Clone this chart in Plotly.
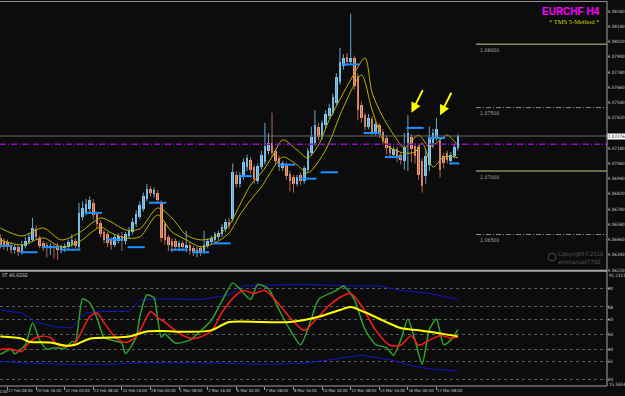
import plotly.graph_objects as go

# ---------------- data ----------------
bars = list(range(129))
opens = [1.0647,1.0645,1.0644,1.0642,1.0638,1.0640,1.0636,1.0641,1.0644,1.0646,
         1.0654,1.0647,1.0643,1.0642,1.0639,1.0641,1.0641,1.0638,1.0639,1.0640,
         1.0642,1.0645,1.0640,1.0664,1.0668,1.0670,1.0675,1.0666,1.0659,1.0652,
         1.0650,1.0646,1.0642,1.0645,1.0649,1.0645,1.0649,1.0652,1.0658,1.0664,
         1.0670,1.0678,1.0686,1.0682,1.0683,1.0675,1.0658,1.0648,1.0645,1.0645,
         1.0640,1.0643,1.0639,1.0642,1.0639,1.0636,1.0639,1.0637,1.0641,1.0644,
         1.0646,1.0648,1.0650,1.0654,1.0660,1.0662,1.0697,1.0690,1.0696,1.0703,
         1.0709,1.0703,1.0692,1.0703,1.0707,1.0716,1.0722,1.0716,1.0710,1.0702,
         1.0705,1.0698,1.0695,1.0690,1.0697,1.0692,1.0701,1.0714,1.0722,1.0735,
         1.0727,1.0736,1.0743,1.0746,1.0754,1.0770,1.0783,1.0790,1.0786,1.0789,
         1.0775,1.0752,1.0744,1.0735,1.0741,1.0731,1.0736,1.0731,1.0726,1.0720,
         1.0713,1.0717,1.0713,1.0708,1.0722,1.0727,1.0720,1.0719,1.0708,1.0696,
         1.0705,1.0722,1.0727,1.0724,1.0712,1.0714,1.0708,1.0712,1.0718]
highs = [1.0650,1.0647,1.0646,1.0644,1.0642,1.0642,1.0645,1.0648,1.0651,1.0663,
         1.0657,1.0649,1.0645,1.0644,1.0643,1.0643,1.0643,1.0642,1.0643,1.0646,
         1.0650,1.0647,1.0675,1.0676,1.0678,1.0680,1.0678,1.0668,1.0661,1.0654,
         1.0652,1.0648,1.0650,1.0651,1.0652,1.0652,1.0656,1.0663,1.0669,1.0676,
         1.0683,1.0690,1.0688,1.0687,1.0685,1.0677,1.0660,1.0650,1.0647,1.0647,
         1.0645,1.0645,1.0653,1.0644,1.0641,1.0640,1.0641,1.0653,1.0647,1.0649,
         1.0652,1.0653,1.0658,1.0662,1.0663,1.0706,1.0700,1.0699,1.0710,1.0713,
         1.0711,1.0705,1.0706,1.0716,1.0738,1.0730,1.0746,1.0718,1.0712,1.0708,
         1.0707,1.0700,1.0697,1.0697,1.0699,1.0704,1.0718,1.0735,1.0748,1.0738,
         1.0740,1.0748,1.0753,1.0761,1.0777,1.0797,1.0792,1.0793,1.0824,1.0791,
         1.0777,1.0755,1.0746,1.0745,1.0743,1.0739,1.0738,1.0733,1.0728,1.0722,
         1.0719,1.0719,1.0715,1.0730,1.0744,1.0729,1.0722,1.0721,1.0710,1.0716,
         1.0735,1.0733,1.0742,1.0727,1.0714,1.0716,1.0715,1.0721,1.0729]
lows = [1.0639,1.0638,1.0637,1.0635,1.0635,1.0633,1.0634,1.0639,1.0642,1.0644,
        1.0646,1.0639,1.0637,1.0632,1.0634,1.0631,1.0630,1.0635,1.0636,1.0638,
        1.0640,1.0639,1.0638,1.0661,1.0665,1.0667,1.0662,1.0655,1.0648,1.0643,
        1.0640,1.0638,1.0640,1.0643,1.0637,1.0642,1.0647,1.0650,1.0656,1.0662,
        1.0668,1.0676,1.0680,1.0679,1.0674,1.0644,1.0642,1.0637,1.0636,1.0638,
        1.0637,1.0637,1.0636,1.0634,1.0633,1.0632,1.0633,1.0635,1.0639,1.0642,
        1.0644,1.0646,1.0648,1.0652,1.0654,1.0660,1.0687,1.0687,1.0693,1.0700,
        1.0698,1.0690,1.0690,1.0701,1.0705,1.0713,1.0711,1.0705,1.0700,1.0700,
        1.0693,1.0684,1.0683,1.0688,1.0689,1.0690,1.0699,1.0712,1.0720,1.0724,
        1.0725,1.0734,1.0741,1.0744,1.0752,1.0768,1.0780,1.0783,1.0784,1.0764,
        1.0740,1.0738,1.0732,1.0733,1.0728,1.0728,1.0726,1.0721,1.0713,1.0711,
        1.0711,1.0707,1.0705,1.0701,1.0700,1.0707,1.0706,1.0693,1.0683,1.0690,
        1.0700,1.0718,1.0724,1.0695,1.0702,1.0706,1.0705,1.0710,1.0716]
closes = [1.0641,1.0641,1.0640,1.0638,1.0640,1.0636,1.0642,1.0645,1.0648,1.0655,
          1.0648,1.0641,1.0640,1.0639,1.0641,1.0639,1.0638,1.0640,1.0641,1.0644,
          1.0646,1.0641,1.0667,1.0671,1.0674,1.0677,1.0665,1.0658,1.0650,1.0646,
          1.0643,1.0642,1.0648,1.0649,1.0645,1.0650,1.0653,1.0660,1.0666,1.0673,
          1.0680,1.0686,1.0683,1.0685,1.0677,1.0647,1.0646,1.0642,1.0641,1.0640,
          1.0643,1.0640,1.0642,1.0637,1.0636,1.0638,1.0636,1.0642,1.0645,1.0647,
          1.0650,1.0651,1.0656,1.0660,1.0657,1.0699,1.0690,1.0697,1.0707,1.0710,
          1.0701,1.0694,1.0704,1.0713,1.0720,1.0722,1.0714,1.0708,1.0703,1.0706,
          1.0696,1.0692,1.0690,1.0695,1.0692,1.0702,1.0716,1.0727,1.0736,1.0727,
          1.0738,1.0745,1.0750,1.0758,1.0774,1.0786,1.0789,1.0786,1.0789,1.0767,
          1.0748,1.0742,1.0735,1.0742,1.0731,1.0737,1.0729,1.0724,1.0718,1.0714,
          1.0717,1.0710,1.0709,1.0719,1.0730,1.0717,1.0712,1.0697,1.0688,1.0712,
          1.0725,1.0730,1.0733,1.0701,1.0706,1.0709,1.0713,1.0719,1.07276]

# TMS blue high/low segments (start bar, end bar, level)
seg_start = [0, 6, 12, 17, 24, 30, 36, 42, 48, 54, 60, 67, 78, 84, 90, 96, 102, 108, 114, 120, 126]
seg_end = [3, 10, 16, 22, 28, 34, 40, 46, 52, 58, 64, 70, 82, 88, 94, 100, 106, 112, 118, 124, 128]
seg_level = [1.0641, 1.0636, 1.0640, 1.0638, 1.0667, 1.0646, 1.0640, 1.0675, 1.0638, 1.0636, 1.0643,
             1.0696, 1.0705, 1.0694, 1.0699, 1.0784, 1.0730, 1.0711, 1.0734, 1.0726, 1.0706]

# yellow channel on price
env_up_x = [0,6,12,17,22,28,31,35,39,44,48,52,56,60,64,67,70,73,76,79,83,86,89,92,98,102,104,107,111,113,117,120,123,125,128]
env_up = [1.06551,1.06488,1.06551,1.06457,1.06512,1.06630,1.06599,1.06536,1.06544,1.06709,1.06630,1.06496,
          1.06457,1.06480,1.06575,1.06733,1.06890,1.06985,1.07111,1.07245,1.07166,1.07103,1.07205,1.07402,
          1.07718,1.07891,1.07615,1.07426,1.07245,1.07182,1.07284,1.07190,1.07245,1.07284,1.07198]
env_lo_x = [0,6,12,17,22,28,31,35,39,44,48,52,56,60,64,67,70,73,76,79,83,86,91,96,101,104,108,113,116,118,121,124,127,128]
env_lo = [1.06457,1.06417,1.06473,1.06402,1.06441,1.06559,1.06512,1.06473,1.06480,1.06654,1.06520,1.06457,
          1.06402,1.06433,1.06512,1.06654,1.06772,1.06874,1.07008,1.07111,1.07048,1.06985,1.07166,1.07505,
          1.07757,1.07481,1.07205,1.07142,1.07150,1.07221,1.07032,1.07111,1.07111,1.07103]

# TDI indicator
green_x = [0,3,4,7,9,11,13,15,18,20,21,22,23,25,27,29,31,34,35,38,39,41,43,44,45,46,49,53,56,59,62,65,67,70,72,
           75,78,81,84,87,89,94,96,99,102,105,108,110,112,114,116,118,120,122,124,126,128]
green_v = [36.5,40,37,43,57.6,46,40,41,40.5,45,45,60,73.4,70.8,61,47.7,46,44,37,48,61.5,76,74,60,48,50,44,46,52,59,
           72,84,80,73,83,80,66,53,43,60,73,79,82,73,53,43,41,36,46,60,46,30,53,60,43,46,53]
red_x = [0,3,6,8,11,14,16,19,21,25,27,29,32,35,38,41,42,44,46,50,54,59,62,66,68,71,74,77,81,85,88,92,96,98,101,
         105,109,112,115,117,120,123,126,128]
red_v = [40,40,38.5,44.4,48.4,47.7,43,41.8,44.4,61.5,64,57.6,48.4,44.4,48.4,61.5,65,61,58,50.5,47,52,64.5,76,79,
         77,79,72.5,61,52.5,59,69,75.6,77,69,52.5,42.6,42.6,49,42.6,46,49,47.5,48]
base_x = [0,6,8,14,18,21,25,31,36,41,45,53,59,64,73,81,89,95,98,102,108,112,117,123,128]
base_v = [48.4,47,45,44.4,42.4,43,47,47.7,48.4,51.7,52,51.5,52.5,58,58,58,61.5,66,68,64.5,58,54,52.5,50.5,48.5]
bandup_x = [0,6,10,15,20,21,24,28,36,39,45,56,64,68,84,98,106,112,120,128]
bandup_v = [66,64,58,55,54,57.6,64,65,65,72.7,73.4,73,76,82,83,82,82,79,77,73]
banddn_x = [0,6,17,31,39,56,73,84,92,101,109,115,120,128]
banddn_v = [32,31,30,30,31,31,30,30.5,33,36,33,29,27,25.5]
tdi_levels = [80, 68, 60, 50, 40, 32, 20]
tdi_top, tdi_bottom = 91.2151, 15.5834

# levels on price chart
solid_levels = [1.08000, 1.07000]
dashed_levels = [1.07500, 1.06500]
pivot_level = 1.07212

price_ticks = [1.08260,1.08140,1.08020,1.07900,1.07780,1.07660,1.07540,1.07420,1.07180,
               1.07060,1.06940,1.06820,1.06700,1.06580,1.06460,1.06340,1.06220]
time_bars = [2,10,18,26,34,42,50,58,66,74,82,90,98,106,114,122]
time_labels = ["17 Feb 08:00","20 Feb 16:00","22 Feb 00:00","23 Feb 08:00","24 Feb 16:00","28 Feb 00:00",
               "1 Mar 08:00","2 Mar 16:00","6 Mar 00:00","7 Mar 08:00","8 Mar 16:00","10 Mar 00:00",
               "13 Mar 08:00","14 Mar 16:00","16 Mar 00:00","17 Mar 08:00"]
arrow_bars = [114, 122]

# ---------------- figure ----------------
W, H = 625, 396
PR = 607            # right edge of plot in px
BG = '#0c0c0c'
SMALL = "Liberation Sans Narrow, DejaVu Sans Condensed, Liberation Sans, Arial"

def py(px):  # paper y from pixel row
    return 1 - px / H

def pxx(px):  # paper x from pixel col
    return px / PR

fig = go.Figure()

bull = [i for i in bars if closes[i] >= opens[i]]
bear = [i for i in bars if closes[i] < opens[i]]

def wicks(idx):
    xs, ys = [], []
    for i in idx:
        xs += [i, i, None]
        ys += [lows[i], highs[i], None]
    return xs, ys

for idx, col in ((bull, '#6aa6c6'), (bear, '#b06a50')):
    wx, wy = wicks(idx)
    fig.add_trace(go.Scatter(x=wx, y=wy, mode='lines', line=dict(color=col, width=1),
                             hoverinfo='skip', xaxis='x', yaxis='y'))

for idx, col in ((bull, '#87cefa'), (bear, '#f5a07a')):
    fig.add_trace(go.Bar(x=idx, y=[max(abs(closes[i] - opens[i]), 0.00002) for i in idx],
                         base=[min(opens[i], closes[i]) for i in idx], width=0.72,
                         marker=dict(color=col, line=dict(width=0)), xaxis='x', yaxis='y'))

# yellow channel
for ex, ev in ((env_up_x, env_up), (env_lo_x, env_lo)):
    fig.add_trace(go.Scatter(x=ex, y=ev, mode='lines', line=dict(color='#bdb200', width=1, shape='spline', smoothing=0.8),
                             xaxis='x', yaxis='y'))

# blue segments
sx, sy = [], []
for a, b, lv in zip(seg_start, seg_end, seg_level):
    sx += [a - 0.4, b + 0.4, None]
    sy += [lv, lv, None]
fig.add_trace(go.Scatter(x=sx, y=sy, mode='lines', line=dict(color='#1e90ff', width=2), xaxis='x', yaxis='y'))

# TDI
fig.add_trace(go.Scatter(x=bandup_x, y=bandup_v, mode='lines', line=dict(color='#1414c8', width=1), xaxis='x2', yaxis='y2'))
fig.add_trace(go.Scatter(x=banddn_x, y=banddn_v, mode='lines', line=dict(color='#1414c8', width=1), xaxis='x2', yaxis='y2'))
fig.add_trace(go.Scatter(x=green_x, y=green_v, mode='lines', line=dict(color='#2ea02e', width=1.5, shape='spline', smoothing=0.6), xaxis='x2', yaxis='y2'))
fig.add_trace(go.Scatter(x=red_x, y=red_v, mode='lines', line=dict(color='#ff1a1a', width=1.5, shape='spline', smoothing=0.8), xaxis='x2', yaxis='y2'))
fig.add_trace(go.Scatter(x=base_x, y=base_v, mode='lines', line=dict(color='#ffff00', width=2, shape='spline', smoothing=0.8), xaxis='x2', yaxis='y2'))

xr = [-0.1, 169.7]
main_dom = [py(270), py(1)]
tdi_dom = [py(386), py(272)]

axis_font = dict(family=SMALL, size=4.5, color='#c8c8c8')
time_font = dict(family=SMALL, size=4.2, color='#c8c8c8')
fig.update_layout(
    width=W, height=H, margin=dict(l=0, r=W - PR, t=0, b=0),
    paper_bgcolor=BG, plot_bgcolor=BG, showlegend=False,
    barmode='overlay', bargap=0,
    xaxis=dict(domain=[0, 1], anchor='y', range=xr, showticklabels=False, showgrid=False,
               zeroline=False, ticks=''),
    yaxis=dict(domain=main_dom, anchor='x', range=[1.0622, 1.0834], side='right',
               tickvals=price_ticks, ticktext=[f"{v:.5f}" for v in price_ticks],
               ticks='outside', ticklen=1, tickcolor='#a0a0a0', tickfont=axis_font,
               ticklabelstandoff=-2,
               showgrid=False, zeroline=False, automargin=False),
    xaxis2=dict(domain=[0, 1], anchor='y2', range=xr, matches='x', tickvals=time_bars, ticktext=time_labels,
                tickangle=0, ticks='outside', ticklen=3, tickcolor='#a0a0a0', tickfont=time_font,
                ticklabelposition='outside right', ticklabelstandoff=0,
                showgrid=False, zeroline=False, automargin=False),
    yaxis2=dict(domain=tdi_dom, anchor='x2', range=[tdi_bottom, tdi_top], side='right',
                tickvals=tdi_levels, ticktext=[str(v) for v in tdi_levels],
                ticks='outside', ticklen=1, tickcolor='#a0a0a0', tickfont=axis_font,
                ticklabelstandoff=-2,
                showgrid=True, gridcolor='#5c5c5c', griddash='dot', gridwidth=1,
                zeroline=False, automargin=False),
)

shapes = []
for lv in solid_levels:
    shapes.append(dict(type='line', xref='paper', yref='y', x0=pxx(476), x1=1, y0=lv, y1=lv,
                       line=dict(color='#8e8a5e', width=1.5)))
for lv in dashed_levels:
    shapes.append(dict(type='line', xref='paper', yref='y', x0=pxx(476), x1=1, y0=lv, y1=lv,
                       line=dict(color='#8a8a8a', width=1, dash='5px,2px,1px,2px')))
shapes.append(dict(type='line', xref='paper', yref='y', x0=0, x1=1, y0=closes[-1], y1=closes[-1],
                   line=dict(color='#6a6a6a', width=1)))
shapes.append(dict(type='line', xref='paper', yref='y', x0=0, x1=1, y0=pivot_level, y1=pivot_level,
                   line=dict(color='#8a10c8', width=1.5, dash='6px,2px,1px,2px')))
# frame
shapes.append(dict(type='line', xref='paper', yref='paper', x0=0, x1=1, y0=py(1.5), y1=py(1.5),
                   line=dict(color='#8c8c8c', width=1)))
shapes.append(dict(type='line', xref='paper', yref='paper', x0=0, x1=1, y0=py(270.7), y1=py(270.7),
                   line=dict(color='#a8a8a8', width=2)))
shapes.append(dict(type='line', xref='paper', yref='paper', x0=0, x1=1, y0=py(386), y1=py(386),
                   line=dict(color='#a0a0a0', width=1)))
shapes.append(dict(type='line', xref='paper', yref='paper', x0=1, x1=1, y0=py(386), y1=py(1.5),
                   line=dict(color='#a0a0a0', width=1)))
# copyright logo circle
shapes.append(dict(type='circle', xref='paper', yref='paper', x0=pxx(548), x1=pxx(556), y0=py(261), y1=py(253),
                   line=dict(color='#4a4a4a', width=1)))
fig.update_layout(shapes=shapes)

ann = []
lvl_font = dict(family=SMALL, size=5.2, color='#a8a8a8')
for lv in solid_levels + dashed_levels:
    ann.append(dict(xref='paper', yref='y', x=pxx(478), y=lv, text=f"{lv:.5f}", showarrow=False,
                    xanchor='left', yanchor='top', yshift=-0.5, font=lvl_font))
# current price box
ann.append(dict(xref='paper', yref='y', x=1, y=closes[-1], text=f"{closes[-1]:.5f}", showarrow=False,
                xanchor='left', yanchor='middle', xshift=0, bgcolor='#ffffff', borderpad=0,
                font=dict(family=SMALL, size=4.5, color='#000000')))
# TDI extremes on the right
ann.append(dict(xref='paper', yref='paper', x=1, y=py(275), text=f"{tdi_top:.4f}", showarrow=False,
                xanchor='left', yanchor='middle', xshift=0, font=axis_font))
ann.append(dict(xref='paper', yref='paper', x=1, y=py(384.5), text=f"{tdi_bottom:.4f}", showarrow=False,
                xanchor='left', yanchor='middle', xshift=0, font=axis_font))
ann.append(dict(xref='paper', yref='paper', x=0, y=py(275), text="ST 46.6292", showarrow=False,
                xanchor='left', yanchor='middle', font=dict(family=SMALL, size=5, color='#c8c8c8')))
ann.append(dict(xref='paper', yref='paper', x=pxx(-19), y=py(391), text="16 Feb 00:00", showarrow=False,
                xanchor='left', yanchor='middle', font=time_font))
# title
ann.append(dict(xref='paper', yref='paper', x=pxx(602), y=py(12), text="<b>EURCHF H4</b>", showarrow=False,
                xanchor='right', yanchor='middle',
                font=dict(family="Liberation Sans, Arial", size=10, color='#ff00ff')))
ann.append(dict(xref='paper', yref='paper', x=pxx(601), y=py(21.5), text="* TMS 5-Method *", showarrow=False,
                xanchor='right', yanchor='middle',
                font=dict(family="Liberation Serif, Times New Roman", size=6.5, color='#d0d000')))
ann.append(dict(xref='paper', yref='paper', x=pxx(556), y=py(254), text="Copyright©2016", showarrow=False,
                xanchor='left', yanchor='middle', font=dict(family=SMALL, size=6, color='#555555')))
ann.append(dict(xref='paper', yref='paper', x=pxx(556), y=py(261), text="emmanuel7700", showarrow=False,
                xanchor='left', yanchor='middle', font=dict(family=SMALL, size=6, color='#555555')))
# yellow arrows pointing at the spikes
for b in arrow_bars:
    ann.append(dict(xref='x', yref='y', x=b + 1.0, y=highs[b] + 0.0002, text='', showarrow=True,
                    ax=12, ay=-24, arrowhead=2, arrowsize=1, arrowwidth=2, arrowcolor='#ffff00'))
fig.update_layout(annotations=ann)

fig.write_html("out.html")
